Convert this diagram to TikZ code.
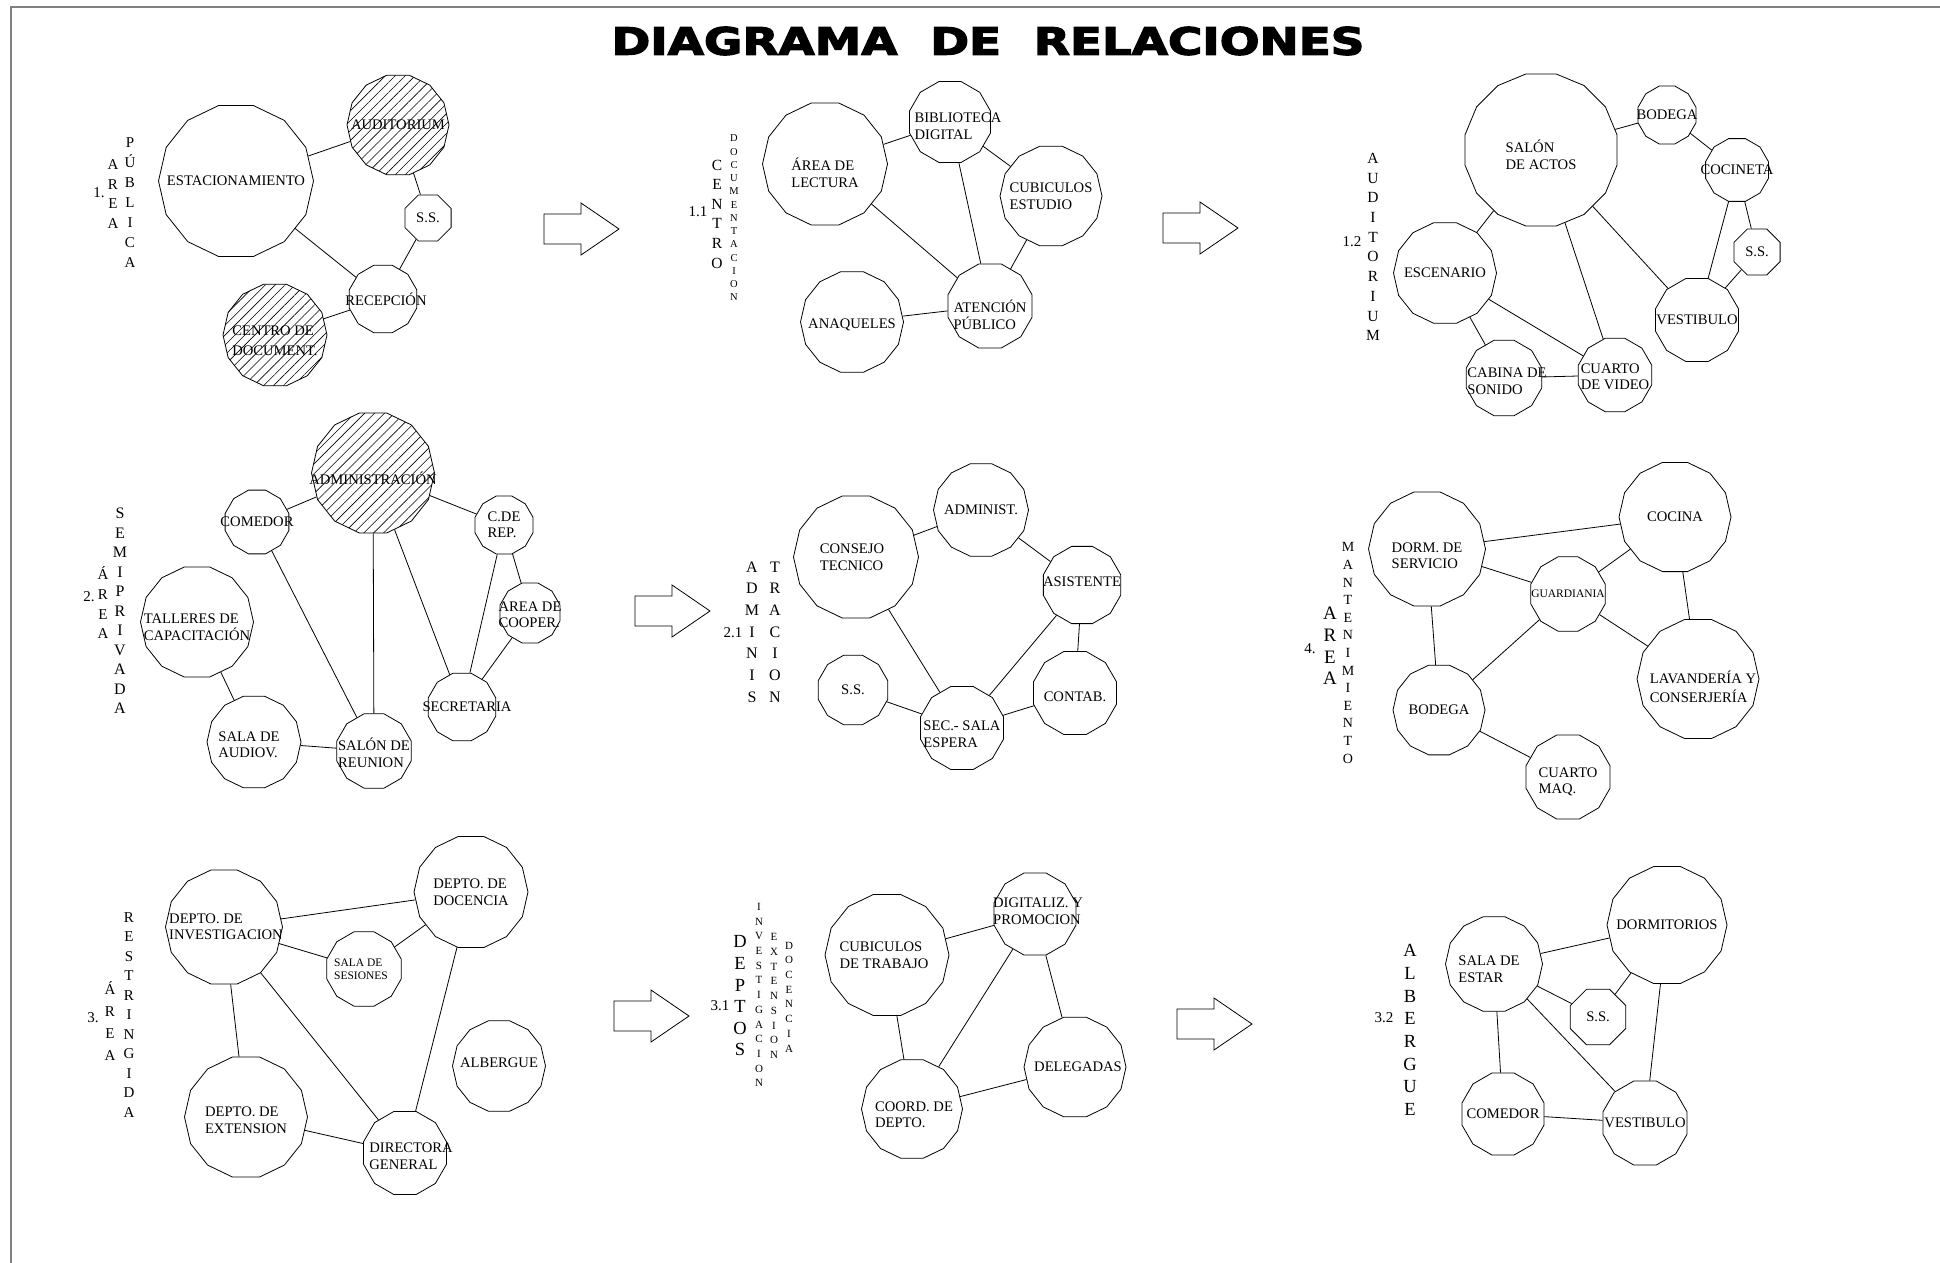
\documentclass[tikz,border=0pt]{standalone}
\usepackage{fontspec}
\setmainfont{Liberation Serif}
\newfontfamily\titlefont{DejaVu Sans}[BoldFeatures={FakeBold=3}]
\usepackage{graphicx}
\usepackage{tikz}
\usetikzlibrary{shapes.geometric, patterns.meta}
\definecolor{framegray}{HTML}{808080}

\tikzset{
  sala/.style 2 args={regular polygon, regular polygon sides=#2, draw,
    minimum size=#1, inner sep=0pt},
  rayado/.style={pattern={Lines[angle=45, distance=7pt, line width=0.6pt]}},
  txt/.style={font=\fontsize{14.6}{16.5}\selectfont, align=left, inner sep=0pt},
  txtchico/.style={font=\fontsize{11.5}{13}\selectfont, align=left, inner sep=0pt},
  pila/.style 2 args={align=center, inner sep=0pt, font=\fontsize{#1}{#2}\selectfont},
  num/.style={font=\fontsize{15}{17}\selectfont, inner sep=0pt},
  flecha/.pic={\draw (0,-15) -- (37,-15) -- (37,-26) -- (75,0) -- (37,26)
    -- (37,15) -- (0,15) -- cycle;}
}

\begin{document}
\begin{tikzpicture}[x=1pt, y=-1pt, line width=0.8pt]
  \useasboundingbox (0,0) rectangle (1940,1263);
  \draw[framegray, line width=2pt] (11,1263) -- (11,7) -- (1940,7);
  \node (titulo) at (988,41) {\resizebox{753pt}{28pt}{\titlefont\bfseries
    DIAGRAMA\hspace{0.7em}DE\hspace{0.7em}RELACIONES}};

  % 1. area publica
  \node[num] (n1) at (99,193) {1.};
  \node[pila={15}{19.5}] (area1) at (113,194) {A\\R\\E\\A};
  \node[pila={15}{20}] (publica) at (130,203) {P\\Ú\\B\\L\\I\\C\\A};
  \node[sala={155}{14}, label={[txt]center:ESTACIONAMIENTO}] (aEst) at (236,181) {};
  \node[sala={102}{14}, rayado, label={[txt]center:AUDITORIUM}] (aAud) at (398,125) {};
  \node[sala={50}{8}, label={[txt]center:S.S.}] (aSS) at (428,218) {};
  \node[sala={70}{12}, label={[txt, xshift=3]center:RECEPCIÓN}] (aRec) at (383,299) {};
  \node[sala={104}{14}, rayado,
        label={[txt, yshift=-6]center:{CENTRO DE\\[3pt]DOCUMENT.}}] (aCen) at (275,335) {};
  \draw (aEst) -- (aAud);
  \draw (aAud) -- (aSS);
  \draw (aSS) -- (aRec);
  \draw (aEst) -- (aRec);
  \draw (aRec) -- (aCen);

  % 1.1 centro de documentacion
  \node[num] (n11) at (698,212) {1.1};
  \node[pila={15.5}{19.6}] (centro) at (717,214) {C\\E\\N\\T\\R\\O};
  \node[pila={10.5}{13.25}] (docu) at (734,218) {D\\O\\C\\U\\M\\E\\N\\T\\A\\C\\I\\O\\N};
  \node[sala={125}{14}, label={[txt, yshift=-9]center:{ÁREA DE\\LECTURA}}] (bLec) at (825,164) {};
  \node[sala={84}{12}, label={[txt, xshift=8, yshift=-4]center:{BIBLIOTECA\\DIGITAL}}] (bBib) at (950,122) {};
  \node[sala={102}{14}, label={[txt]center:{CUBICULOS\\ESTUDIO}}] (bCub) at (1051,196) {};
  \node[sala={103}{14}, label={[txt, yshift=-3]center:ANAQUELES}] (bAna) at (852,322) {};
  \node[sala={87}{12}, label={[txt, yshift=-9]center:{ATENCIÓN\\PÚBLICO}}] (bAte) at (990,306) {};
  \draw (bLec) -- (bBib);
  \draw (bLec) -- (bAte);
  \draw (bBib) -- (bAte);
  \draw (bBib) -- (bCub);
  \draw (bCub) -- (bAte);
  \draw (bAna) -- (bAte);

  % 1.2 auditorium
  \node[num] (n12) at (1352,242) {1.2};
  \node[pila={15.5}{19.7}] (audit) at (1373,247) {A\\U\\D\\I\\T\\O\\R\\I\\U\\M};
  \node[sala={155}{16}, label={[txt, yshift=-5]center:{SALÓN\\DE ACTOS}}] (cSal) at (1541,150) {};
  \node[sala={60}{12}, label={[txt]center:BODEGA}] (cBod) at (1667,115) {};
  \node[sala={65}{12}, label={[txt]center:COCINETA}] (cCoc) at (1737,170) {};
  \node[sala={50}{8}, label={[txt]center:S.S.}] (cSS) at (1757,252) {};
  \node[sala={103}{14}, label={[txt]center:ESCENARIO}] (cEsc) at (1445,273) {};
  \node[sala={86}{12}, label={[txt]center:VESTIBULO}] (cVes) at (1697,320) {};
  \node[sala={78}{12}, label={[txt, xshift=3, yshift=-3]center:{CABINA DE\\SONIDO}}] (cCab) at (1504,378) {};
  \node[sala={76}{12}, label={[txt, yshift=-2]center:{CUARTO\\DE VIDEO}}] (cCua) at (1615,375) {};
  \draw (cSal) -- (cBod);
  \draw (cBod) -- (cCoc);
  \draw (cCoc) -- (cVes);
  \draw (cCoc) -- (cSS);
  \draw (cSS) -- (cVes);
  \draw (cSal) -- (cVes);
  \draw (cSal) -- (cEsc);
  \draw (cSal) -- (cCua);
  \draw (cEsc) -- (cCua);
  \draw (cEsc) -- (cCab);
  \draw (cCab) -- (cCua);

  % 2. area semiprivada
  \node[num] (n2) at (89,597) {2.};
  \node[pila={15}{19.7}] (area2) at (103,603) {Á\\R\\E\\A};
  \node[pila={16}{19.5}] (semi) at (120,611) {S\\E\\M\\I\\P\\R\\I\\V\\A\\D\\A};
  \node[sala={123}{14}, rayado, label={[txt, yshift=-5]center:ADMINISTRACIÓN}] (dAdm) at (373,473) {};
  \node[sala={66}{12}, label={[txt]center:COMEDOR}] (dCom) at (257,522) {};
  \node[sala={60}{12}, label={[txt]center:{C.DE\\REP.}}] (dRep) at (504,525) {};
  \node[sala={62}{12}, label={[txt, yshift=-2]center:{AREA DE\\COOPER.}}] (dCoo) at (530,613) {};
  \node[sala={113}{14}, label={[txt, yshift=-5]center:{TALLERES DE\\CAPACITACIÓN}}] (dTal) at (197,622) {};
  \node[sala={94}{14}, label={[txt, xshift=-5, yshift=-3]center:{SALA DE\\AUDIOV.}}] (dAud) at (254,742) {};
  \node[sala={77}{12}, label={[txt, yshift=-2]center:{SALÓN DE\\REUNION}}] (dReu) at (374,751) {};
  \node[sala={70}{12}, label={[txt, xshift=5]center:SECRETARIA}] (dSec) at (462,707) {};
  \draw (dCom) -- (dAdm);
  \draw (dAdm) -- (dRep);
  \draw (dAdm) -- (dReu);
  \draw (dAdm) -- (dSec);
  \draw (dCom) -- (dReu);
  \draw (dRep) -- (dSec);
  \draw (dRep) -- (dCoo);
  \draw (dCoo) -- (dSec);
  \draw (dTal) -- (dAud);
  \draw (dAud) -- (dReu);

  % 2.1 administracion
  \node[num] (n21) at (733,633) {2.1};
  \node[pila={16}{21.7}] (admi) at (752,632) {A\\D\\M\\I\\N\\I\\S};
  \node[pila={16}{21.7}] (tra) at (775,632) {T\\R\\A\\C\\I\\O\\N};
  \node[sala={125}{14}, label={[txt, xshift=-4]center:{CONSEJO\\TECNICO}}] (eCon) at (856,557) {};
  \node[sala={95}{14}, label={[txt]center:ADMINIST.}] (eAdm) at (981,510) {};
  \node[sala={80}{12}, label={[txt, yshift=3]center:ASISTENTE}] (eAsi) at (1082,585) {};
  \node[sala={86}{12}, label={[txt, yshift=-4]center:CONTAB.}] (eCnt) at (1075,693) {};
  \node[sala={72}{12}, label={[txt]center:S.S.}] (eSS) at (853,690) {};
  \node[sala={86}{12}, label={[txt, yshift=-6]center:{SEC.- SALA\\ESPERA}}] (eSec) at (962,728) {};
  \draw (eCon) -- (eAdm);
  \draw (eAdm) -- (eAsi);
  \draw (eAsi) -- (eCnt);
  \draw (eCon) -- (eSec);
  \draw (eAsi) -- (eSec);
  \draw (eCnt) -- (eSec);
  \draw (eSS) -- (eSec);

  % 4. area mantenimiento
  \node[num] (n4) at (1310,649) {4.};
  \node[pila={19}{21.7}] (area4) at (1330,646) {A\\R\\E\\A};
  \node[pila={14}{17.6}] (mante) at (1348,653) {M\\A\\N\\T\\E\\N\\I\\M\\I\\E\\N\\T\\O};
  \node[sala={117}{14}, label={[txt, yshift=-7]center:{DORM. DE\\SERVICIO}}] (fDor) at (1427,549) {};
  \node[sala={112}{14}, label={[txt]center:COCINA}] (fCoc) at (1675,517) {};
  \node[sala={77}{12}, label={[txtchico]center:GUARDIANIA}] (fGua) at (1568,594) {};
  \node[sala={122}{14}, label={[txt, xshift=5, yshift=-8]center:{LAVANDERÍA Y\\[3pt]CONSERJERÍA}}] (fLav) at (1698,679) {};
  \node[sala={92}{14}, label={[txt]center:BODEGA}] (fBod) at (1439,710) {};
  \node[sala={87}{12}, label={[txt, yshift=-5]center:{CUARTO\\MAQ.}}] (fMaq) at (1568,777) {};
  \draw (fDor) -- (fCoc);
  \draw (fDor) -- (fGua);
  \draw (fDor) -- (fBod);
  \draw (fGua) -- (fCoc);
  \draw (fGua) -- (fLav);
  \draw (fCoc) -- (fLav);
  \draw (fGua) -- (fBod);
  \draw (fBod) -- (fMaq);

  % 3. area restringida
  \node[num] (n3) at (93,1018) {3.};
  \node[pila={15}{21.7}] (area3) at (110,1021) {Á\\R\\E\\A};
  \node[pila={15}{19.5}] (restr) at (129,1015) {R\\E\\S\\T\\R\\I\\N\\G\\I\\D\\A};
  \node[sala={117}{14}, label={[txt, xshift=2]center:{DEPTO. DE\\INVESTIGACION}}] (gInv) at (224,927) {};
  \node[sala={114}{14}, label={[txt]center:{DEPTO. DE\\DOCENCIA}}] (gDoc) at (471,892) {};
  \node[sala={77}{12}, label={[txtchico, xshift=-3]center:{SALA DE\\SESIONES}}] (gSes) at (364,969) {};
  \node[sala={93}{14}, label={[txt, yshift=3]center:ALBERGUE}] (gAlb) at (499,1066) {};
  \node[sala={123}{14}, label={[txt, yshift=-3]center:{DEPTO. DE\\EXTENSION}}] (gExt) at (246,1117) {};
  \node[sala={86}{12}, label={[txt, xshift=6, yshift=-3]center:{DIRECTORA\\GENERAL}}] (gDir) at (405,1153) {};
  \draw (gInv) -- (gDoc);
  \draw (gInv) -- (gSes);
  \draw (gSes) -- (gDoc);
  \draw (gInv) -- (gExt);
  \draw (gInv) -- (gDir);
  \draw (gDoc) -- (gDir);
  \draw (gExt) -- (gDir);

  % 3.1 deptos
  \node[num] (n31) at (720,1006) {3.1};
  \node[pila={18.5}{21.6}] (deptos) at (740,996) {D\\E\\P\\T\\O\\S};
  \node[pila={11}{14.7}] (inves) at (759,995) {I\\N\\V\\E\\S\\T\\I\\G\\A\\C\\I\\O\\N};
  \node[pila={11}{14.7}] (exten) at (774,996) {E\\X\\T\\E\\N\\S\\I\\O\\N};
  \node[pila={11}{14.7}] (docen) at (789,997) {D\\O\\C\\E\\N\\C\\I\\A};
  \node[sala={124}{14}, label={[txt, xshift=-3]center:{CUBICULOS\\DE TRABAJO}}] (hCub) at (887,955) {};
  \node[sala={85}{12}, label={[txt, xshift=3, yshift=3]center:{DIGITALIZ. Y\\PROMOCION}}] (hDig) at (1035,914) {};
  \node[sala={102}{14}, label={[txt, xshift=3]center:DELEGADAS}] (hDel) at (1075,1067) {};
  \node[sala={101}{14}, label={[txt, xshift=2, yshift=-6]center:{COORD. DE\\DEPTO.}}] (hCoo) at (912,1109) {};
  \draw (hCub) -- (hDig);
  \draw (hCub) -- (hCoo);
  \draw (hDig) -- (hCoo);
  \draw (hDig) -- (hDel);
  \draw (hCoo) -- (hDel);

  % 3.2 albergue
  \node[num] (n32) at (1384,1018) {3.2};
  \node[pila={18.5}{22.7}] (alber) at (1410,1030) {A\\L\\B\\E\\R\\G\\U\\E};
  \node[sala={97}{14}, label={[txt, xshift=-5, yshift=-5]center:{SALA DE\\ESTAR}}] (kSal) at (1494,964) {};
  \node[sala={120}{14}, label={[txt]center:DORMITORIOS}] (kDor) at (1667,925) {};
  \node[sala={60}{8}, label={[txt]center:S.S.}] (kSS) at (1598,1017) {};
  \node[sala={85}{12}, label={[txt]center:COMEDOR}] (kCom) at (1503,1114) {};
  \node[sala={87}{12}, label={[txt]center:VESTIBULO}] (kVes) at (1645,1123) {};
  \draw (kSal) -- (kDor);
  \draw (kSal) -- (kSS);
  \draw (kSS) -- (kDor);
  \draw (kSal) -- (kCom);
  \draw (kSal) -- (kVes);
  \draw (kDor) -- (kVes);
  \draw (kCom) -- (kVes);

  \pic (flecha1) at (544,229) {flecha};
  \pic (flecha2) at (1163,228) {flecha};
  \pic (flecha3) at (635,611) {flecha};
  \pic (flecha4) at (614,1016) {flecha};
  \pic (flecha5) at (1177,1024) {flecha};
\end{tikzpicture}
\end{document}
